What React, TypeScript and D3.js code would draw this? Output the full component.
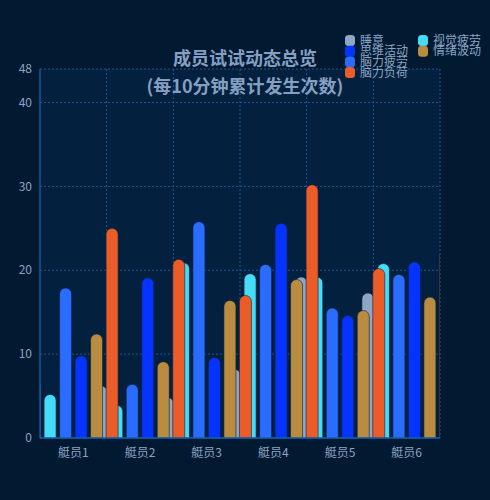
import * as d3 from 'd3';

const crews = ['艇员1', '艇员2', '艇员3', '艇员4', '艇员5', '艇员6'];
const seriesNames = ['睡意', '视觉疲劳', '脑力疲劳', '思维活动', '情绪波动', '脑力负荷'];
const seriesColors = ['#8ea7c7', '#46dcf8', '#2a6cff', '#0533ff', '#ba8c3f', '#ec5c28'];
const sleepiness = [7, 6.2, 4.8, 8.2, 19.2, 17.3];
const visualFatigue = [5.2, 3.9, 20.9, 19.6, 19.2, 20.8];
const mentalFatigue = [17.9, 6.4, 25.8, 20.7, 15.5, 19.5];
const thinking = [9.8, 19.1, 9.6, 25.6, 14.6, 21.0];
const emotion = [12.4, 9.1, 16.4, 18.9, 15.2, 16.8];
const mentalLoad = [25.0, 21.3, 17.0, 30.2, 20.2, 22.4];
const seriesValues = [sleepiness, visualFatigue, mentalFatigue, thinking, emotion, mentalLoad];
const yTicks = [0, 10, 20, 30, 40];
const yMax = 44;
const yMaxLabel = '48';
const legendOrder = ['睡意', '视觉疲劳', '思维活动', '情绪波动', '脑力疲劳', '脑力负荷'];

const W = 490;
const H = 500;
const margin = { top: 69, right: 50, bottom: 62, left: 40 };
const font = '"Noto Sans CJK SC", "Noto Sans", sans-serif';
const labelColor = '#8ba3c2';

function roundTop(x0: number, w: number, yt: number, yb: number) {
  const r = Math.min(w / 2, Math.max(0, yb - yt));
  return `M${x0},${yb}V${yt + r}A${r},${r} 0 0 1 ${x0 + r},${yt}H${x0 + w - r}A${r},${r} 0 0 1 ${x0 + w},${yt + r}V${yb}Z`;
}

export default function App() {
  const innerW = W - margin.left - margin.right;
  const innerH = H - margin.top - margin.bottom;
  const x = d3.scaleBand().domain(crews).range([0, innerW]);
  const slot = d3.scalePoint().domain(seriesNames).range([-38.75, 38.75]);
  const y = d3.scaleLinear().domain([0, yMax]).range([innerH, 0]);
  const barW = 12;
  const bounds = crews.map(c => x(c)! + x.bandwidth());

  return (
    <div style={{ position: 'fixed', left: 0, top: 0, width: W, height: H }}>
      <svg width={W} height={H} style={{ display: 'block', fontFamily: font }}>
        <defs>
          <clipPath id="plot">
            <rect x={0} y={0} width={innerW} height={innerH} />
          </clipPath>
        </defs>
        <rect width={W} height={H} fill="#021a31" />
        <g transform={`translate(${margin.left},${margin.top})`}>
          <rect width={innerW} height={innerH} fill="#03213f" />
          {[...yTicks.filter(t => t > 0), yMax].map(t => (
            <line key={t} x1={0} x2={innerW} y1={y(t)} y2={y(t)} stroke="#1b5795" strokeDasharray="2,2" />
          ))}
          {bounds.map((b, i) => (
            <line key={i} x1={b} x2={b} y1={0} y2={innerH} stroke="#1b5795" strokeDasharray="2,2" />
          ))}
          <g clipPath="url(#plot)">
            {seriesNames.map((s, si) => (
              <g key={s}>
                {crews.map((c, ci) => {
                  const cx = x(c)! + x.bandwidth() / 2 + slot(s)!;
                  return (
                    <path
                      key={c}
                      d={roundTop(cx - barW / 2, barW, y(seriesValues[si][ci]), innerH)}
                      fill={seriesColors[si]}
                      stroke="#06203c"
                      strokeWidth={0.6}
                    />
                  );
                })}
              </g>
            ))}
          </g>
          <line x1={0} x2={0} y1={0} y2={innerH} stroke="#1366b8" strokeWidth={1.2} />
          <line x1={0} x2={innerW} y1={innerH} y2={innerH} stroke="#1366b8" strokeWidth={1.5} />
          {yTicks.map(t => (
            <text key={t} x={-8} y={y(t)} dy="0.35em" textAnchor="end" fontSize={12} fill={labelColor}>
              {t}
            </text>
          ))}
          <text x={-8} y={y(yMax)} dy="0.35em" textAnchor="end" fontSize={12} fill={labelColor}>
            {yMaxLabel}
          </text>
          {crews.map(c => (
            <text key={c} x={x(c)! + x.bandwidth() / 2} y={innerH + 15} dy="0.35em" textAnchor="middle" fontSize={12} fill={labelColor}>
              {c}
            </text>
          ))}
        </g>
        <text x={245} y={59} dy="0.35em" textAnchor="middle" fontSize={18} fontWeight="bold" fill="#859fc3">
          成员试试动态总览
        </text>
        <text x={245} y={87} dy="0.35em" textAnchor="middle" fontSize={18} fontWeight="bold" fill="#859fc3">
          (每10分钟累计发生次数)
        </text>
        {legendOrder.map((name, i) => {
          const col = i < 4 ? i % 2 : 0;
          const row = i < 4 ? Math.floor(i / 2) : i - 2;
          const lx = col === 0 ? 345 : 418;
          const ly = 40.5 + row * 10.7;
          const color = seriesColors[seriesNames.indexOf(name)];
          return (
            <g key={name}>
              <rect x={lx} y={ly - 5.5} width={10} height={11} rx={3.5} fill={color} />
              <text x={lx + 15} y={ly} dy="0.35em" fontSize={12} fill={labelColor}>
                {name}
              </text>
            </g>
          );
        })}
      </svg>
    </div>
  );
}
